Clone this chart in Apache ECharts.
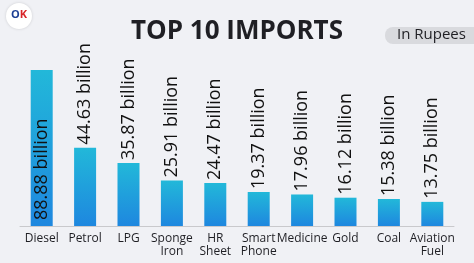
<!DOCTYPE html>
<html>
<head>
<meta charset="utf-8">
<script src="https://cdn.jsdelivr.net/npm/echarts@6/dist/echarts.min.js"></script>
<style>
html,body{margin:0;padding:0;background:#f0f1f5;}
#chart_box{width:474px;height:263px;}
</style>
</head>
<body>
<div id="chart_box"></div>
<script>
// top 10 imports, values in billion rupees
var categories = ["Diesel", "Petrol", "LPG", "Sponge\nIron", "HR\nSheet", "Smart\nPhone", "Medicine", "Gold", "Coal", "Aviation\nFuel"];
var values = [88.88, 44.63, 35.87, 25.91, 24.47, 19.37, 17.96, 16.12, 15.38, 13.75];
var insideLabelIndex = 0;

var importsChart = echarts.init(document.getElementById("chart_box"));

function buildBarData(){
	var list = [];
	for(var i=0,l=values.length;i<l;i++){
		var item = {value: values[i]};
		if(i == insideLabelIndex){
			item.label = {position: 'insideBottom', distance: 6};
		}
		list.push(item);
	}
	return list;
}

var importsChartOption = {
	backgroundColor: '#f0f1f5',
	animation: false,
	title: {
		text: 'TOP 10 IMPORTS',
		left: 'center',
		top: 14,
		textStyle: {
			fontFamily: 'Open Sans',
			fontWeight: 'bold',
			fontSize: 26,
			color: '#1f1f24'
		}
	},
	graphic: [
		{
			type: 'rect',
			shape: {x: 385, y: 27, width: 100, height: 17, r: 8},
			style: {fill: '#d9dade'}
		},
		{
			type: 'text',
			left: 397, top: 27,
			style: {text: 'In Rupees', font: '15px "Open Sans"', fill: '#1f1f24'}
		},
		{
			type: 'circle',
			shape: {cx: 19, cy: 16, r: 13},
			style: {fill: '#ffffff', shadowBlur: 3, shadowColor: 'rgba(0,0,0,0.15)'}
		},
		{
			type: 'text',
			left: 11, top: 9,
			style: {
				text: '{o|O}{k|K}',
				rich: {
					o: {font: 'bold 11px "Open Sans"', fill: '#1c3f94'},
					k: {font: 'bold 11px "Open Sans"', fill: '#d9262b'}
				}
			}
		}
	],
	grid: {
		left: 20,
		right: 20,
		top: 70,
		bottom: 37
	},
	xAxis: {
		type: 'category',
		data: categories,
		axisTick: {show: false},
		axisLine: {lineStyle: {color: '#c9c9cc', width: 1}},
		axisLabel: {
			interval: 0,
			margin: 6,
			fontFamily: 'Open Sans',
			fontSize: 12,
			lineHeight: 13,
			color: '#1f1f24'
		}
	},
	yAxis: {
		type: 'value',
		min: 0,
		max: 88.88,
		show: false
	},
	series: [
		{
			type: 'bar',
			barWidth: 22,
			data: buildBarData(),
			itemStyle: {
				color: new echarts.graphic.LinearGradient(0, 0, 0, 1, [
					{offset: 0, color: '#22b8d9'},
					{offset: 1, color: '#1e87df'}
				])
			},
			label: {
				show: true,
				position: 'top',
				rotate: 90,
				align: 'left',
				verticalAlign: 'middle',
				distance: 3,
				fontFamily: 'Open Sans',
				fontSize: 18,
				color: '#111111',
				formatter: function(p){
					return p.value.toFixed(2) + ' billion';
				}
			}
		}
	]
};
importsChart.setOption(importsChartOption);
</script>
</body>
</html>
